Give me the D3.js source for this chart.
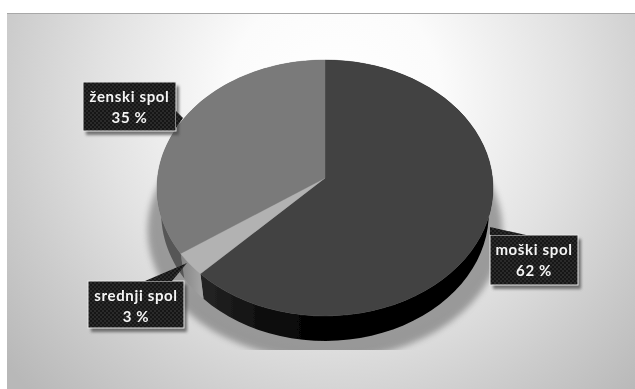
<!DOCTYPE html>
<html><head><meta charset="utf-8">
<script src="https://cdn.jsdelivr.net/npm/d3@7"></script>
<style>html,body{margin:0;padding:0;background:#fff}svg{display:block}</style>
</head><body><svg id="c" width="635" height="389"></svg>
<script>
const categories = ["moški spol", "srednji spol", "ženski spol"];
const shares = [62.4, 3.0, 34.6];
const shareLabels = ["62 %", "3 %", "35 %"];

const topColors = ["#424242", "#b2b2b2", "#7a7a7a"];
const sideColors = ["url(#sideM)", "url(#sideS)", "#565656"];
const callouts = [
  {x:490, y:235, w:88, h:50, tip:[490,227], base:[[490,235],[526,235]]},
  {x:88,  y:281, w:96, h:47, tip:[187,263], base:[[145,281],[172,281]]},
  {x:83,  y:82,  w:93, h:49, tip:[183,118], base:[[176,111],[176,128]]}
];

const svg = d3.select("#c");
const defs = svg.append("defs");
const W = 635, H = 389;

function grad(id, type, attrs, stops){
  const g = defs.append(type).attr("id", id).attr("gradientUnits","userSpaceOnUse");
  Object.entries(attrs).forEach(([k,v]) => g.attr(k,v));
  stops.forEach(([o,c]) => g.append("stop").attr("offset",o).attr("stop-color",c));
}
grad("bg","radialGradient",{cx:335,cy:95,r:425},[[0,"#ffffff"],[.25,"#fbfbfb"],[.55,"#e2e2e2"],[.78,"#cccccc"],[1,"#b8b8b8"]]);
grad("sideM","linearGradient",{x1:198,y1:0,x2:330,y2:0},[[0,"#262626"],[.5,"#0e0e0e"],[1,"#000000"]]);
grad("sideS","linearGradient",{x1:172,y1:0,x2:200,y2:0},[[0,"#777"],[1,"#a2a2a2"]]);
const pat = defs.append("pattern").attr("id","dots").attr("width",4).attr("height",4).attr("patternUnits","userSpaceOnUse");
pat.append("rect").attr("width",4).attr("height",4).attr("fill","#151515");
pat.append("rect").attr("width",2).attr("height",2).attr("fill","#2b2b2b");
pat.append("rect").attr("x",2).attr("y",2).attr("width",2).attr("height",2).attr("fill","#2b2b2b");
const blur = (id,s) => defs.append("filter").attr("id",id).attr("x","-30%").attr("y","-30%").attr("width","160%").attr("height","160%")
  .append("feGaussianBlur").attr("stdDeviation",s);
blur("soft",3); blur("shadowBlur",1.5); blur("all",.45);
defs.append("clipPath").attr("id","floor").append("rect").attr("x",0).attr("y",0).attr("width",W).attr("height",350);

const root = svg.append("g").attr("filter","url(#all)");
root.append("rect").attr("x",7).attr("y",13).attr("width",W-7).attr("height",H-13).attr("fill","url(#bg)");
root.append("line").attr("x1",7).attr("x2",W).attr("y1",13.5).attr("y2",13.5).attr("stroke","#a8a8a8");

// perspective disc: maps a pie angle to the tilted rim
const cx = 325, cy = 188, rx = 167.5, ry = 128, apex = -10, depth = 25, p = 0.078, sideShrink = 0.975;
function rim(theta, dy){
  const u = Math.sin(theta), v = -Math.cos(theta), d = 1 - p * v;
  const k = dy ? sideShrink : 1;
  return [cx + k * rx * u / d, cy + dy + (ry * v + apex) / d];
}
const pie = d3.pie().sort(null);
const arcs = pie(shares);
const line = d3.line();
const sample = (a,b,dy) => d3.range(0,61).map(i => rim(a + (b-a)*i/60, dy));

// shadow behind the disc, cut off by the floor edge
root.append("g").attr("clip-path","url(#floor)")
  .append("ellipse").attr("cx",cx).attr("cy",cy+42).attr("rx",rx+10).attr("ry",ry+2)
  .attr("fill","#6a6a6a").attr("opacity",.6).attr("filter","url(#soft)");

root.append("g").selectAll("path").data(arcs).join("path")
  .attr("d", a => line(sample(a.startAngle,a.endAngle,0).concat(sample(a.endAngle,a.startAngle,depth)))+"Z")
  .attr("fill",(a,i)=>sideColors[i]);

root.append("g").selectAll("path").data(arcs).join("path")
  .attr("d", a => line([[cx,cy+apex]].concat(sample(a.startAngle,a.endAngle,0)))+"Z")
  .attr("fill",(a,i)=>topColors[i])
  .attr("stroke",(a,i)=>topColors[i]).attr("stroke-width",.4);

// callouts
const co = root.append("g").selectAll("g").data(callouts).join("g");
co.append("rect").attr("x",c=>c.x+3).attr("y",c=>c.y+4).attr("width",c=>c.w).attr("height",c=>c.h)
  .attr("fill","#444").attr("opacity",.7).attr("filter","url(#shadowBlur)");
co.append("rect").attr("x",c=>c.x).attr("y",c=>c.y).attr("width",c=>c.w).attr("height",c=>c.h)
  .attr("fill","url(#dots)").attr("stroke","#e8e8e8").attr("stroke-width",1);
co.append("path").attr("d",c=>line([c.tip,c.base[0],c.base[1]])+"Z").attr("fill","url(#dots)");
const font = s => s.attr("text-anchor","middle").attr("font-family","Lato").attr("font-weight",700)
  .attr("font-size",15).attr("letter-spacing",.65).attr("fill","#f4f4f4");
co.append("text").attr("x",c=>c.x+c.w/2).attr("y",c=>c.y+20).call(font).text((c,i)=>categories[i]);
co.append("text").attr("x",c=>c.x+c.w/2).attr("y",c=>c.y+41).call(font).text((c,i)=>shareLabels[i]);
</script></body></html>
